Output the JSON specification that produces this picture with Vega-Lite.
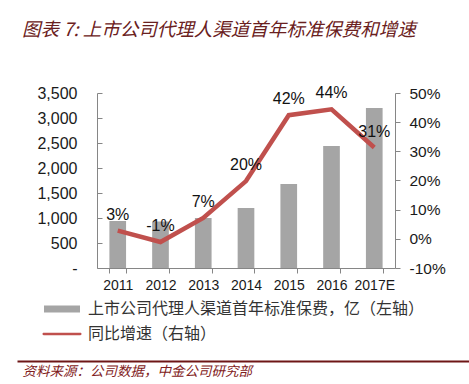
{
  "$schema": "https://vega.github.io/schema/vega-lite/v6.json",
  "width": 298,
  "height": 175,
  "autosize": "none",
  "padding": {"left": 97, "top": 93, "right": 74, "bottom": 116},
  "background": "white",
  "config": {"view": {"stroke": null}},
  "title": {
    "text": "图表 7:  上市公司代理人渠道首年标准保费和增速",
    "anchor": "start",
    "frame": "group",
    "dx": -75,
    "offset": 46,
    "font": "Noto Sans CJK SC",
    "fontSize": 18.5,
    "fontStyle": "italic",
    "fontWeight": "normal",
    "color": "#6a2020"
  },
  "data": {
    "values": [
      {"year": "2011", "premium": 940, "growth": 0.028, "label": "3%"},
      {"year": "2012", "premium": 930, "growth": -0.011, "label": "-1%"},
      {"year": "2013", "premium": 1000, "growth": 0.072, "label": "7%"},
      {"year": "2014", "premium": 1200, "growth": 0.198, "label": "20%"},
      {"year": "2015", "premium": 1680, "growth": 0.424, "label": "42%"},
      {"year": "2016", "premium": 2440, "growth": 0.444, "label": "44%"},
      {"year": "2017E", "premium": 3200, "growth": 0.313, "label": "31%"}
    ]
  },
  "layer": [
    {
      "layer": [
        {
          "mark": {"type": "bar"},
          "encoding": {
            "x": {
              "field": "year", "type": "nominal", "sort": null,
              "scale": {"paddingInner": 0.61, "paddingOuter": 0.29},
              "axis": {
                "title": null, "labelAngle": 0, "tickBand": "extent",
                "domainColor": "#868686", "tickColor": "#868686", "tickSize": 5,
                "labelFont": "Liberation Sans", "labelFontSize": 14, "labelColor": "#1a1a1a",
                "labelPadding": 5
              }
            },
            "y": {
              "field": "premium", "type": "quantitative",
              "scale": {"domain": [0, 3500], "nice": false},
              "axis": {
                "title": null, "grid": false, "values": [0, 500, 1000, 1500, 2000, 2500, 3000, 3500],
                "labelExpr": "datum.value == 0 ? '-' : format(datum.value, ',')",
                "labelOverlap": false,
                "domainColor": "#868686", "tickColor": "#868686", "tickSize": -5,
                "labelPadding": 25,
                "labelFont": "Liberation Sans", "labelFontSize": 16, "labelColor": "#1a1a1a"
              }
            },
            "color": {
              "datum": "上市公司代理人渠道首年标准保费，亿（左轴）",
              "type": "nominal",
              "scale": {
                "domain": ["上市公司代理人渠道首年标准保费，亿（左轴）", "同比增速（右轴）"],
                "range": ["#a5a5a5", "#c0504d"]
              },
              "legend": {
                "title": null,
                "orient": "none",
                "legendX": -43,
                "legendY": 208,
                "padding": 0,
                "direction": "vertical",
                "symbolSize": 100,
                "symbolOpacity": 1,
                "labelOffset": 18,
                "rowPadding": 9,
                "labelFont": "Noto Sans CJK SC",
                "labelFontSize": 16,
                "labelColor": "#333333",
                "labelLimit": 500,
                "encode": {
                  "symbols": {
                    "update": {
                      "shape": {"signal": "datum.value === '同比增速（右轴）' ? 'M-3.67,-0.23H3.67A0.23,0.23 0 0 1 3.67,0.23H-3.67A0.23,0.23 0 0 1 -3.67,-0.23Z' : 'M-3.6,-0.7H3.6V0.7H-3.6Z'"},
                      "strokeWidth": {"value": 0}
                    }
                  }
                }
              }
            }
          }
        },
        {
          "layer": [
            {
              "mark": {"type": "line", "color": "#c0504d", "strokeWidth": 4.5},
              "encoding": {
                "x": {"field": "year", "type": "nominal", "sort": null},
                "y": {
                  "field": "growth", "type": "quantitative",
                  "scale": {"domain": [-0.1, 0.5], "nice": false, "zero": false},
                  "axis": {
                    "title": null, "grid": false, "orient": "right",
                    "values": [-0.1, 0, 0.1, 0.2, 0.3, 0.4, 0.5],
                    "labelExpr": "(datum.value < 0 ? '-' : '') + format(abs(datum.value), '.0%')",
                    "labelOverlap": false,
                    "domainColor": "#868686", "tickColor": "#868686", "tickSize": 5,
                    "labelPadding": 9,
                    "labelFont": "Liberation Sans", "labelFontSize": 15.5, "labelColor": "#1a1a1a"
                  }
                }
              }
            },
            {
              "mark": {"type": "text", "dy": -16, "baseline": "middle", "font": "Liberation Sans", "fontSize": 16, "color": "#111111"},
              "encoding": {
                "x": {"field": "year", "type": "nominal", "sort": null},
                "y": {
                  "field": "growth", "type": "quantitative",
                  "scale": {"domain": [-0.1, 0.5], "nice": false, "zero": false},
                  "axis": {
                    "title": null, "grid": false, "orient": "right",
                    "values": [-0.1, 0, 0.1, 0.2, 0.3, 0.4, 0.5],
                    "labelExpr": "(datum.value < 0 ? '-' : '') + format(abs(datum.value), '.0%')",
                    "labelOverlap": false,
                    "domainColor": "#868686", "tickColor": "#868686", "tickSize": 5,
                    "labelPadding": 9,
                    "labelFont": "Liberation Sans", "labelFontSize": 15.5, "labelColor": "#1a1a1a"
                  }
                },
                "text": {"field": "label", "type": "nominal"}
              }
            }
          ]
        }
      ],
      "resolve": {"scale": {"y": "independent"}}
    },
    {
      "data": {"values": [{"v": 0}, {"v": 1}]},
      "mark": {"type": "point", "opacity": 0},
      "encoding": {
        "x": {
          "field": "v", "type": "quantitative",
          "scale": {"domain": [0, 1], "range": [-80, 372], "nice": false, "zero": false},
          "axis": {
            "orient": "bottom", "offset": 93, "grid": false, "ticks": false, "labels": false,
            "domainColor": "#6e1616", "domainWidth": 2,
            "title": "资料来源：公司数据，中金公司研究部",
            "titleFont": "Noto Sans CJK SC", "titleFontSize": 13.5, "titleFontStyle": "italic",
            "titleFontWeight": "normal", "titleColor": "#7f2020",
            "titleAnchor": "start", "titleAlign": "left", "titleBaseline": "middle",
            "titleX": -75, "titleY": 10
          }
        }
      }
    }
  ],
  "resolve": {"scale": {"x": "independent", "y": "independent"}}
}
